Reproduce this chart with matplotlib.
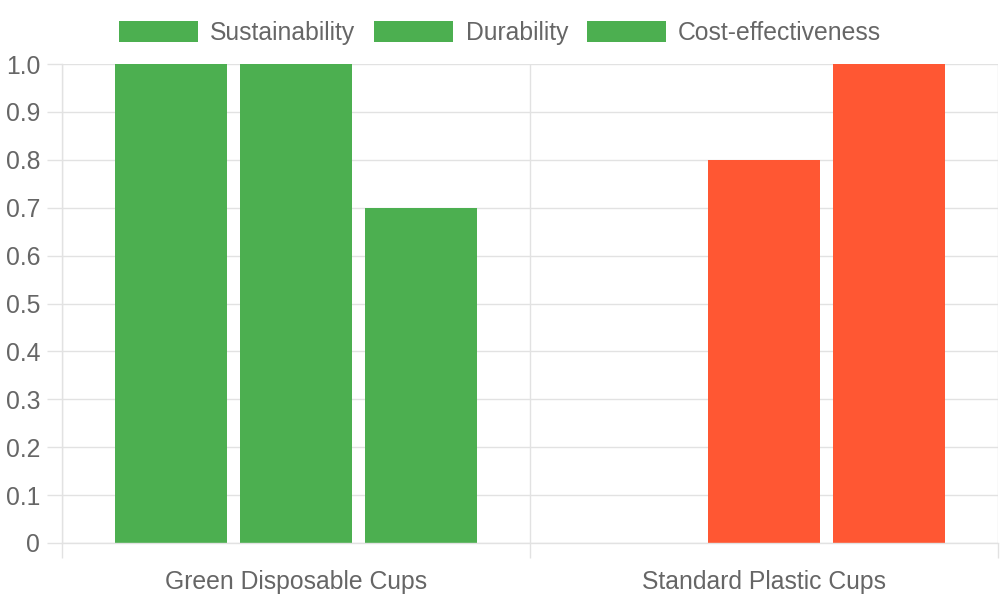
import numpy as np
import matplotlib
matplotlib.use('Agg')
import matplotlib.pyplot as plt
from matplotlib.patches import Patch

plt.rcParams['font.family'] = ['Liberation Sans', 'DejaVu Sans']

# data
categories = ['Green Disposable Cups', 'Standard Plastic Cups']
series_names = ['Sustainability', 'Durability', 'Cost-effectiveness']
sustainability = [1.0, 0.0]
durability = [1.0, 0.8]
cost_effectiveness = [0.7, 1.0]
bar_colors = ['#4CAF50', '#FF5733']
y_ticks = [0, 0.1, 0.2, 0.3, 0.4, 0.5, 0.6, 0.7, 0.8, 0.9, 1.0]
y_tick_labels = ['0', '0.1', '0.2', '0.3', '0.4', '0.5', '0.6', '0.7', '0.8', '0.9', '1.0']

grid_color = '#e2e2e2'
text_color = '#666666'
fsize = 17.8
tick_len = 10.8  # ~15 px

fig = plt.figure(figsize=(10, 6), dpi=100)
ax = fig.add_axes([0.062, 0.095, 0.936, 0.7983])

x = np.arange(len(categories))
n = len(series_names)
step = 0.8 / n
width = step * 0.9
for i, vals in enumerate([sustainability, durability, cost_effectiveness]):
    ax.bar(x + (i - (n - 1) / 2) * step, vals, width=width, color=bar_colors, zorder=2)

ax.set_xlim(-0.5, len(categories) - 0.5)
ax.set_ylim(0, 1.0)

ax.set_yticks(y_ticks)
ax.set_yticklabels(y_tick_labels)
ax.set_xticks(x)
ax.set_xticklabels(categories)
ax.set_xticks(np.arange(-0.5, len(categories), 1.0), minor=True)

ax.tick_params(axis='y', which='major', length=tick_len, width=1, color=grid_color,
               labelcolor=text_color, labelsize=fsize, pad=5)
ax.tick_params(axis='x', which='major', length=0, labelcolor=text_color,
               labelsize=fsize, pad=19.5)
ax.tick_params(axis='x', which='minor', length=tick_len, width=1, color=grid_color)

ax.grid(axis='y', which='major', color=grid_color, linewidth=1)
ax.grid(axis='x', which='minor', color=grid_color, linewidth=1)
ax.set_axisbelow(True)
for side in ['top', 'right']:
    ax.spines[side].set_visible(False)
for side in ['left', 'bottom']:
    ax.spines[side].set_color(grid_color)
    ax.spines[side].set_linewidth(1)

handles = [Patch(facecolor=bar_colors[0], edgecolor='none') for _ in series_names]
fig.legend(handles, series_names, loc='center', bbox_to_anchor=(0.5, 1 - 33 / 600),
           ncol=3, frameon=False, fontsize=fsize, labelcolor=text_color,
           handlelength=3.2, handleheight=0.95, handletextpad=0.5,
           columnspacing=0.75, borderpad=0)

fig.savefig('out.png', dpi=100)
